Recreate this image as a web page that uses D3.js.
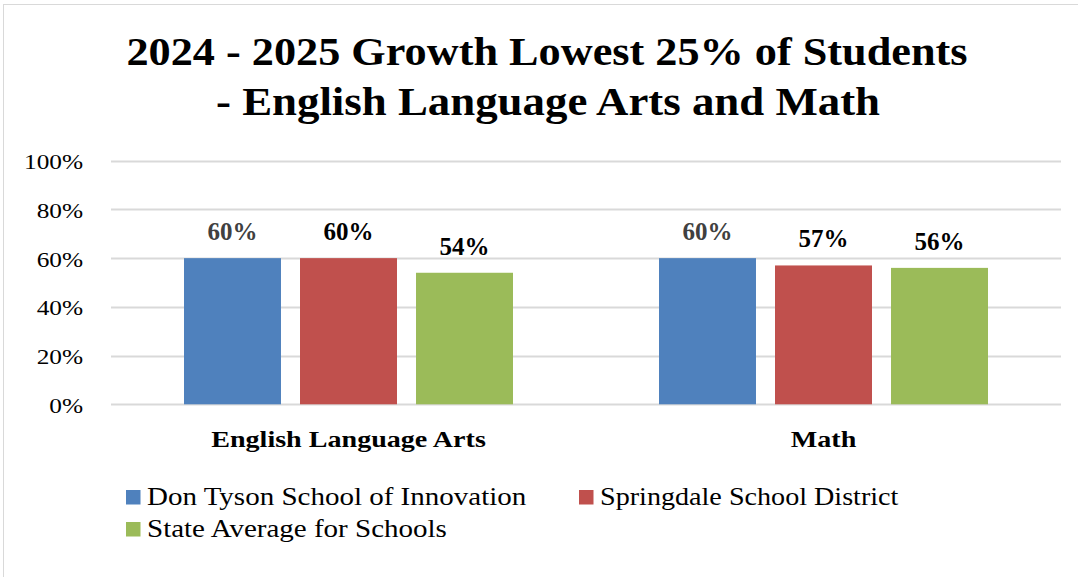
<!DOCTYPE html>
<html>
<head>
<meta charset="utf-8">
<script src="https://cdn.jsdelivr.net/npm/d3@7"></script>
<style>
  html, body { margin: 0; padding: 0; background: #fff; }
  svg { display: block; }
</style>
</head>
<body>
<svg id="chart" width="1078" height="577"></svg>
<script>
// Chart data
const categories = ["English Language Arts", "Math"];
const seriesNames = ["Don Tyson School of Innovation", "Springdale School District", "State Average for Schools"];
const donTyson = [60, 60];
const springdale = [60, 57];
const stateAvg = [54, 56];
const yTicks = [0, 20, 40, 60, 80, 100];
const titleLines = ["2024 - 2025 Growth Lowest 25% of Students", "- English Language Arts and Math"];

const seriesValues = [donTyson, springdale, stateAvg];
const colors = ["#4f81bd", "#c0504d", "#9bbb59"];
const labelColors = ["#404040", "#000", "#000"];
const SERIF = "'Liberation Serif', 'Times New Roman', serif";

const svg = d3.select("#chart");
const W = 1078, H = 577;

// Widen a text run horizontally by a factor (book-style serif is wider than Times)
function widen(sel, factor) {
  sel.each(function(d, i) {
    const f = typeof factor === "function" ? factor(d, i) : factor;
    const n = this.getComputedTextLength();
    d3.select(this).attr("textLength", n * f).attr("lengthAdjust", "spacingAndGlyphs");
  });
}

// Outer chart frame
svg.append("rect")
  .attr("x", 3.5).attr("y", 4.5)
  .attr("width", W + 2).attr("height", H + 2)
  .attr("fill", "#fff").attr("stroke", "#d9d9d9").attr("stroke-width", 1);

// Title
const title = svg.append("g");
title.append("text")
  .attr("x", 547).attr("y", 65)
  .attr("text-anchor", "middle")
  .style("font-family", SERIF)
  .attr("font-weight", "bold").attr("font-size", 40)
  .attr("textLength", 841).attr("lengthAdjust", "spacingAndGlyphs")
  .text(titleLines[0]);
title.append("text")
  .attr("x", 548).attr("y", 115)
  .attr("text-anchor", "middle")
  .style("font-family", SERIF)
  .attr("font-weight", "bold").attr("font-size", 40)
  .attr("textLength", 664).attr("lengthAdjust", "spacingAndGlyphs")
  .text(titleLines[1]);

// Scales
const plotLeft = 111, plotRight = 1061;
const y = d3.scaleLinear().domain([0, 100]).range([404.3, 160.7]);
const x0 = d3.scaleBand().domain(categories).range([plotLeft, plotRight]).paddingInner(0).paddingOuter(0);
const x1 = d3.scaleBand().domain(d3.range(seriesNames.length))
  .range([x0.bandwidth() / 2 - 164.5, x0.bandwidth() / 2 + 164.5])
  .paddingInner(0.164).paddingOuter(0);

// Gridlines
svg.append("g")
  .selectAll("line").data(yTicks).join("line")
  .attr("x1", plotLeft).attr("x2", plotRight)
  .attr("y1", d => Math.round(y(d)) + 0.5).attr("y2", d => Math.round(y(d)) + 0.5)
  .attr("stroke", "#d9d9d9").attr("stroke-width", 2);

// Y axis labels
const yAxis = d3.axisLeft(y).tickValues(yTicks).tickFormat(d => d + "%").tickSize(0).tickPadding(0);
const yg = svg.append("g").attr("transform", "translate(83,0)").call(yAxis)
  .attr("font-family", null).attr("font-size", null);
yg.select(".domain").remove();
yg.selectAll("text")
  .style("font-family", SERIF)
  .style("font-size", "22px").attr("fill", "#000")
  .attr("dy", "0.36em")
  .call(widen, 1.15);

// Bars
const groups = svg.append("g").selectAll("g").data(categories).join("g")
  .attr("transform", d => `translate(${x0(d)},0)`);

groups.each(function(cat, ci) {
  const g = d3.select(this);
  const rows = seriesNames.map((s, si) => ({ si, v: seriesValues[si][ci] }));
  g.selectAll("rect").data(rows).join("rect")
    .attr("x", d => x1(d.si))
    .attr("y", d => y(d.v))
    .attr("width", x1.bandwidth())
    .attr("height", d => y(0) - y(d.v))
    .attr("fill", d => colors[d.si]);
  g.selectAll("text.lbl").data(rows).join("text")
    .attr("class", "lbl")
    .attr("x", d => x1(d.si) + x1.bandwidth() / 2)
    .attr("y", d => y(d.v) - 18)
    .attr("text-anchor", "middle")
    .style("font-family", SERIF)
    .attr("font-weight", "bold").attr("font-size", 25)
    .attr("fill", d => labelColors[d.si])
    .text(d => d.v + "%");
});

// Category axis labels
const xAxis = d3.axisBottom(x0).tickSize(0).tickPadding(0);
const xg = svg.append("g").attr("transform", "translate(0,447)").call(xAxis)
  .attr("font-family", null).attr("font-size", null);
xg.select(".domain").remove();
xg.selectAll("text")
  .style("font-family", SERIF)
  .style("font-size", "24px").style("font-weight", "bold").attr("fill", "#000")
  .attr("dy", 0)
  .call(widen, 1.17);

// Legend
const legendPos = [[126, 505], [579, 505], [126, 537]];
const lg = svg.append("g").selectAll("g").data(seriesNames).join("g")
  .attr("transform", (d, i) => `translate(${legendPos[i][0]},${legendPos[i][1]})`);
lg.append("rect").attr("x", 0).attr("y", -15).attr("width", 14.5).attr("height", 14.5)
  .attr("fill", (d, i) => colors[i]);
lg.append("text").attr("x", 21).attr("y", 0)
  .style("font-family", SERIF)
  .style("font-size", "25px").attr("fill", "#000")
  .text(d => d)
  .call(widen, (d, i) => (i === 1 ? 1.125 : 1.16));
</script>
</body>
</html>
